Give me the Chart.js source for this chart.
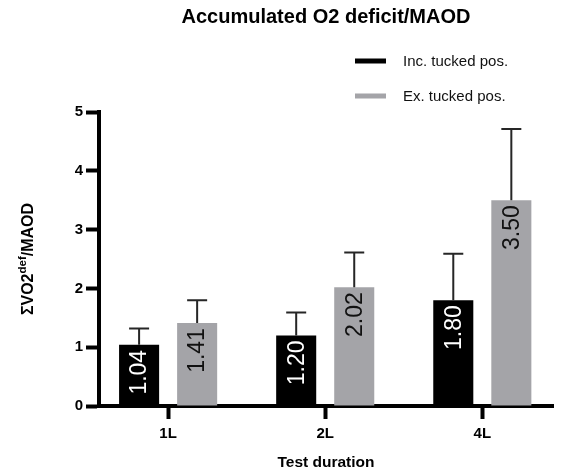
<!DOCTYPE html>
<html>
<head>
<meta charset="utf-8">
<script src="https://cdn.jsdelivr.net/npm/chart.js@4.4.0/dist/chart.umd.min.js"></script>
<style>
html,body{margin:0;padding:0;background:#fff;}
#wrap{width:563px;height:473px;}
</style>
</head>
<body>
<div id="wrap"><canvas id="c" width="563" height="473"></canvas></div>
<script>
// ---- data ----
const categories = ['1L', '2L', '4L'];
const seriesNames = ['Inc. tucked pos.', 'Ex. tucked pos.'];
const incValues = [1.04, 1.20, 1.80];
const exValues = [1.41, 2.02, 3.50];
const incErrors = [0.28, 0.39, 0.79];
const exErrors = [0.39, 0.59, 1.21];
const yTicks = [0, 1, 2, 3, 4, 5];
const chartTitle = 'Accumulated O2 deficit/MAOD';
const xTitle = 'Test duration';
const yTitleParts = ['\u03A3VO2', 'def', '/MAOD'];

const FONT = "'Liberation Sans', Arial, Helvetica, sans-serif";
const BLACK = '#000000';
const GRAY = '#a4a4a8';

const toPoints = vals => vals.map((v, i) => ({ x: i, y: v }));

const overlayPlugin = {
  id: 'overlay',
  afterDatasetsDraw(chart) {
    const ctx = chart.ctx;
    const yScale = chart.scales.y;
    chart.data.datasets.forEach((ds, di) => {
      const meta = chart.getDatasetMeta(di);
      meta.data.forEach((bar, i) => {
        const v = ds.data[i].y;
        const e = ds.errors[i];
        const yTop = yScale.getPixelForValue(v + e);
        // error bar (upper only)
        ctx.save();
        ctx.strokeStyle = '#262626';
        ctx.lineWidth = 2;
        ctx.beginPath();
        ctx.moveTo(bar.x, bar.y);
        ctx.lineTo(bar.x, yTop);
        ctx.moveTo(bar.x - 10, yTop);
        ctx.lineTo(bar.x + 10, yTop);
        ctx.stroke();
        ctx.restore();
        // value label rotated inside bar
        ctx.save();
        ctx.translate(bar.x, bar.y + 5);
        ctx.rotate(-Math.PI / 2);
        ctx.font = '23px ' + FONT;
        ctx.fillStyle = ds.labelColor;
        ctx.textAlign = 'right';
        ctx.textBaseline = 'middle';
        ctx.fillText(v.toFixed(2), 0, 1);
        ctx.restore();
      });
    });
  },
  afterDraw(chart) {
    const ctx = chart.ctx;
    const area = chart.chartArea;
    // y axis title with superscript
    ctx.save();
    const cy = (area.top + area.bottom) / 2;
    ctx.translate(29, cy);
    ctx.rotate(-Math.PI / 2);
    ctx.fillStyle = '#000';
    ctx.textBaseline = 'middle';
    ctx.textAlign = 'left';
    const mainFont = 'bold 16px ' + FONT;
    const supFont = 'bold 11.5px ' + FONT;
    ctx.font = mainFont;
    const w1 = ctx.measureText(yTitleParts[0]).width;
    const w3 = ctx.measureText(yTitleParts[2]).width;
    ctx.font = supFont;
    const w2 = ctx.measureText(yTitleParts[1]).width;
    let x = -(w1 + w2 + w3) / 2;
    ctx.font = mainFont;
    ctx.fillText(yTitleParts[0], x, 0);
    x += w1;
    ctx.font = supFont;
    ctx.fillText(yTitleParts[1], x, -6);
    x += w2;
    ctx.font = mainFont;
    ctx.fillText(yTitleParts[2], x, 0);
    ctx.restore();
    // legend (vertical, top right)
    ctx.save();
    const rows = [61, 96];
    chart.data.datasets.forEach((ds, di) => {
      const yy = rows[di];
      ctx.fillStyle = ds.backgroundColor;
      ctx.fillRect(355, yy - 2.5, 31, 5);
      ctx.fillStyle = '#111';
      ctx.font = '15px ' + FONT;
      ctx.textAlign = 'left';
      ctx.textBaseline = 'middle';
      ctx.fillText(ds.label, 403, yy + 1);
    });
    ctx.restore();
  }
};

const boldFont = size => ({ family: FONT, size: size, weight: 'bold' });

new Chart(document.getElementById('c'), {
  type: 'bar',
  data: {
    datasets: [
      {
        label: seriesNames[0],
        data: toPoints(incValues),
        errors: incErrors,
        backgroundColor: BLACK,
        borderWidth: 0,
        labelColor: '#ffffff',
        categoryPercentage: 0.739,
        barPercentage: 0.69
      },
      {
        label: seriesNames[1],
        data: toPoints(exValues),
        errors: exErrors,
        backgroundColor: GRAY,
        borderWidth: 0,
        labelColor: '#111111',
        categoryPercentage: 0.739,
        barPercentage: 0.69
      }
    ]
  },
  options: {
    responsive: false,
    animation: false,
    devicePixelRatio: 1,
    layout: { padding: { left: 49, right: 10, top: 0, bottom: 0 } },
    plugins: {
      legend: { display: false },
      tooltip: { enabled: false },
      title: {
        display: true,
        text: chartTitle,
        fullSize: false,
        color: '#000',
        font: boldFont(20),
        padding: { top: 5.5, bottom: 82.5 }
      }
    },
    scales: {
      x: {
        type: 'linear',
        min: -0.44,
        max: 2.45,
        offset: false,
        afterBuildTicks: s => { s.ticks = categories.map((_, i) => ({ value: i })); },
        afterFit: s => { s.height = 67; },
        ticks: {
          callback: v => (categories[v] !== undefined ? categories[v] : ''),
          font: boldFont(15),
          color: '#000',
          padding: 6,
          maxRotation: 0,
          autoSkip: false
        },
        grid: {
          offset: false,
          drawOnChartArea: false,
          drawTicks: true,
          tickLength: 13,
          tickWidth: 4,
          tickColor: '#000'
        },
        border: { display: true, width: 4, color: '#000' },
        title: {
          display: true,
          text: xTitle,
          color: '#000',
          font: boldFont(15.5),
          padding: { top: 4, bottom: 1 }
        }
      },
      y: {
        min: 0,
        max: 5,
        afterBuildTicks: s => { s.ticks = yTicks.map(v => ({ value: v })); },
        afterFit: s => { s.width = 50; },
        ticks: {
          font: boldFont(15),
          color: '#000',
          padding: 3
        },
        grid: {
          drawOnChartArea: false,
          drawTicks: true,
          tickLength: 13,
          tickWidth: 4,
          tickColor: '#000'
        },
        border: { display: true, width: 4, color: '#000' }
      }
    }
  },
  plugins: [overlayPlugin]
});
</script>
</body>
</html>
